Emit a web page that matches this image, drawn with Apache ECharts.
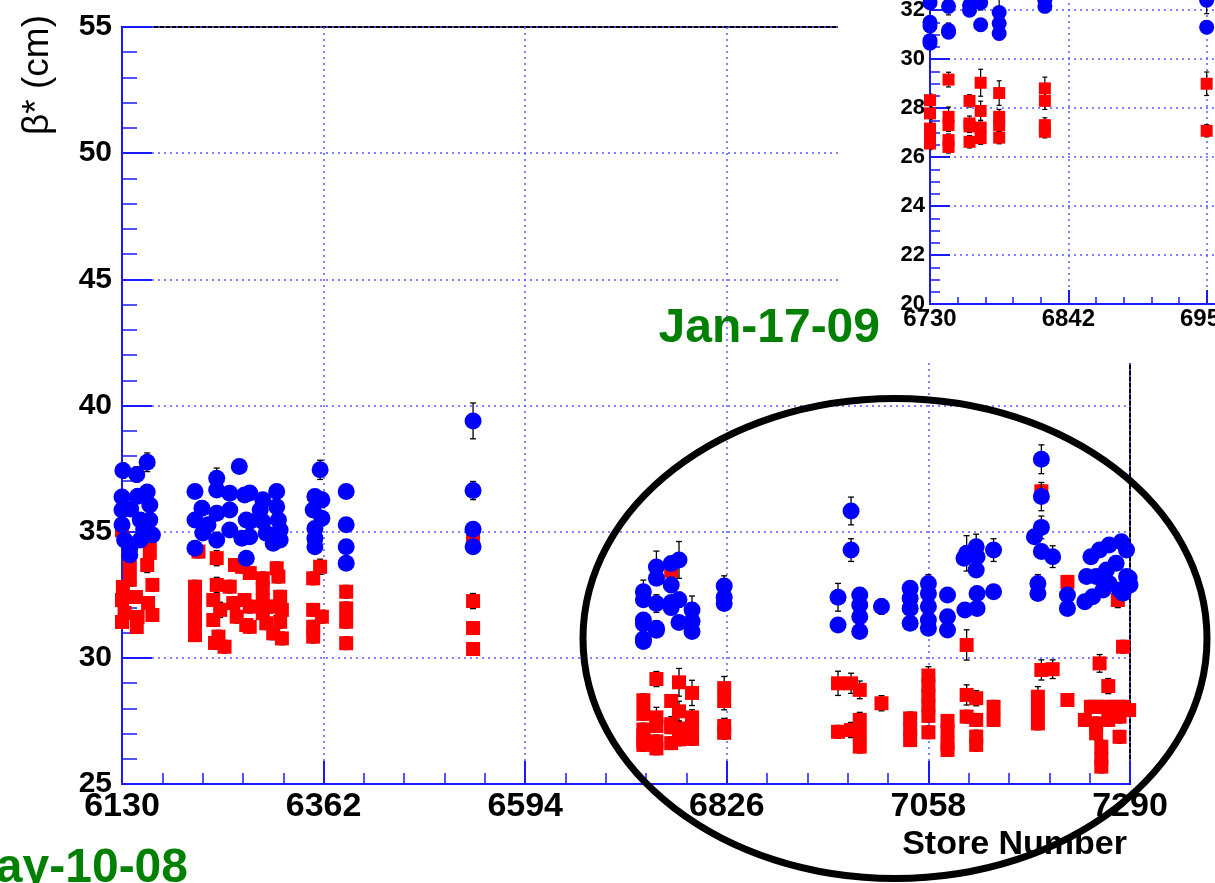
<!DOCTYPE html>
<html>
<head>
<meta charset="utf-8">
<script src="https://cdn.jsdelivr.net/npm/echarts@6/dist/echarts.min.js"></script>
<style>html,body{margin:0;padding:0;background:#fff}#c{width:1215px;height:883px}</style>
</head>
<body>
<div id="c"></div>
<script>
// ---- data: [store number, beta* (cm), error] ----
const redPoints = [
  [6130,35.05],[6162,34.67],[6162,34.16],[6159,33.68,0.3],[6139,33.6],[6139,33.09],[6131,32.81],[6165,32.89],
  [6130,32.29],[6146,32.41],[6160,32.17],[6133,31.78],[6148,31.62],[6165,31.70],[6130,31.42],[6147,31.22],
  [6218,34.21],[6239,33.95,0.3],[6260,33.68],[6268,33.61],[6214,32.82],[6239,32.89,0.3],[6254,32.82],[6271,32.29],
  [6214,32.29],[6235,32.29],[6258,32.17],[6214,31.78],[6243,31.9,0.3],[6262,31.63],[6214,31.43],[6235,31.5],
  [6273,31.3],[6214,30.9],[6241,30.84],[6248,30.44],[6237,30.59],
  [6277,33.36],[6308,33.55],[6292,33.15],[6310,33.22],[6292,32.76],[6312,32.42],[6292,32.29],[6300,32.03],
  [6314,31.9],[6292,31.77],[6312,31.43],[6296,31.37],[6304,30.97],[6314,30.77],[6277,32.03],[6277,31.23],
  [6358,33.61,0.3],[6350,33.15],[6350,31.9],[6360,31.63],[6350,31.23],[6350,30.84],
  [6388,32.62],[6388,31.96],[6388,31.43],[6388,30.58],
  [6534,34.7],[6534,32.25,0.3],[6534,31.18],[6534,30.35],
  [6730,28.32],[6730,27.78],[6730,27.16],[6730,26.95],[6730,26.69],[6730,26.55],
  [6745,29.16,0.3],[6745,27.64,0.4],[6745,27.3],[6745,26.69],[6745,26.41],
  [6762,33.45],[6762,28.29],[6762,27.37,0.3],[6762,27.25],[6762,26.62],
  [6771,29.03,0.55],[6771,27.88,0.4],[6771,27.2,0.3],[6771,26.77],
  [6786,28.61,0.5],[6786,27.64,0.3],[6786,27.3],[6786,26.79],
  [6823,28.8,0.46],[6823,28.29,0.35],[6823,27.3,0.3],[6823,27.03],
  [6954,28.99,0.48],[6954,27.07],
  [6969,28.99,0.4],[6979,28.73,0.35],[6969,27.14,0.3],[6979,27.54,0.3],[6979,27.01],[6979,26.48],[7004,28.2,0.3],
  [7037,27.6],[7037,27.14],[7037,26.74],
  [7058,29.3,0.35],[7058,28.9],[7058,28.5],[7058,28.1],[7058,27.7],[7058,27.05],
  [7080,27.5],[7080,27.1],[7080,26.6],[7080,26.35],
  [7102,30.51,0.6],[7102,28.53,0.4],[7113,28.4,0.3],[7102,27.67],[7113,27.54],[7113,26.88],[7113,26.55],
  [7133,28.06],[7133,27.54],
  [7188,36.6],[7218,33.01],[7276,32.29,0.3],[7282,30.44],[7255,29.78,0.35],[7188,29.52,0.4],[7201,29.55,0.37],
  [7265,28.88,0.3],[7184,28.46,0.4],[7184,27.93],[7184,27.4],[7218,28.33],[7245,28.06],[7257,28.06],[7270,28.06],
  [7282,28.06],[7289,27.93],[7238,27.54],[7251,27.4],[7265,27.54],[7278,27.67],[7251,27.01],[7278,26.87],
  [7257,26.48],[7257,26.02],[7257,25.69]
];
const bluePoints = [
  [6131,37.42,0.3],[6147,37.27,0.3],[6159,37.75,0.37],
  [6130,36.37],[6130,35.86],[6130,35.27],[6133,34.67],[6139,34.35],[6148,36.4],[6151,35.46],[6159,36.57],
  [6162,36.06],[6162,35.46],[6165,34.87],[6151,34.67],[6139,34.08],[6140,35.9],[6155,35.1],
  [6265,37.58],[6239,37.12,0.4],[6214,36.59],[6239,36.65],[6254,36.52],[6271,36.45],[6222,35.93],[6214,35.46],
  [6229,35.27],[6239,35.73],[6254,35.86],[6273,35.46],[6254,35.07],[6239,34.67,0.3],[6268,34.74],[6214,34.34],
  [6273,33.95],[6223,34.95],
  [6277,36.53],[6292,36.26],[6308,36.59],[6289,35.86],[6308,35.99],[6292,35.4],[6310,35.46],[6296,34.94],
  [6312,35.07],[6304,34.54],[6312,34.67],[6277,35.4],[6277,34.8],
  [6358,37.45,0.38],[6352,36.39],[6360,36.26,0.3],[6350,35.86],[6360,35.53],[6352,35.13],[6352,34.74],[6352,34.4],
  [6388,36.59],[6388,35.27],[6388,34.4],[6388,33.75],
  [6534,39.39,0.71],[6534,36.63,0.36],[6534,35.1],[6534,34.4],
  [6730,32.62,0.46],[6730,32.3],[6730,31.5],[6730,31.35],[6730,30.75],[6730,30.65],
  [6745,33.6,0.63],[6745,33.15],[6745,32.15,0.35],[6745,31.17,0.3],[6745,31.09],
  [6762,33.74],[6762,32.89,0.3],[6762,32.19],[6762,31.99],
  [6771,33.88,0.73],[6771,32.3,0.3],[6771,31.4],
  [6786,31.9,0.55],[6786,31.45],[6786,31.04],
  [6823,32.85,0.4],[6823,32.4],[6823,32.15],
  [6954,32.4,0.55],[6954,31.3],
  [6969,35.82,0.55],[6969,34.27,0.45],[6979,32.49],[6979,32.09],[6979,31.63],[6979,31.04],[7004,32.03,0.3],
  [7037,32.76],[7037,32.36],[7037,31.96],[7037,31.37],
  [7058,32.95,0.35],[7058,32.55],[7058,32.03],[7058,31.5],[7058,31.17],
  [7080,32.49],[7080,31.63],[7080,31.1],
  [7102,34.14,0.7],[7113,34.4,0.5],[7114,34.01],[7113,33.48],[7133,34.27,0.45],[7114,32.55],[7133,32.62],
  [7100,31.9],[7114,31.96],[7099,33.95],
  [7188,37.87,0.57],[7188,36.39,0.56],[7188,35.17,0.45],[7180,34.8],[7188,34.21],[7201,34.01,0.43],
  [7184,32.95,0.35],[7184,32.55],[7218,32.49],[7218,31.96],[7238,32.22],[7240,33.22],[7245,34.01],[7255,34.27],
  [7266,34.47],[7280,34.6],[7286,34.27],[7251,33.22],[7263,33.48],[7274,33.75],[7286,33.22],[7290,32.89],
  [7278,32.69],[7259,32.69],[7247,32.42],[7266,32.95],[7289,33.16],[7282,32.56]
];
const DEFAULT_ERR = 0.25;

// ---- axes / tick labels ----
const xTickLabels = ['6130','6362','6594','6826','7058','7290'];
const X_BASE = 6130, X_STEP = 232;
const insetXTickLabels = ['6730','6842','6954','7066'];
const INSET_BASE = 6730, INSET_STEP = 112;
const yRange = [25, 55, 5];
const insetYRange = [20, 34, 2];

const FONT = '"Liberation Sans", Arial, Helvetica, sans-serif';
const AXIS_BLUE = '#1a1aff';
const GRID_BLUE = '#5a5aff';

function prep(points, base, lo, hi) {
  return points.filter(p => p[0] >= lo && p[0] <= hi)
               .map(p => [p[0] - base, p[1], p.length > 2 ? p[2] : DEFAULT_ERR]);
}
const mainRed = prep(redPoints, X_BASE, 6100, 7300);
const mainBlue = prep(bluePoints, X_BASE, 6100, 7300);
const insRed = prep(redPoints, INSET_BASE, 6725, 7066);
const insBlue = prep(bluePoints, INSET_BASE, 6725, 7066);

function errRender(cap, lw) {
  return function (params, api) {
    const x = api.value(0), y = api.value(1), e = api.value(2);
    const t = api.coord([x, y + e]), b = api.coord([x, y - e]);
    const st = { stroke: '#000', lineWidth: lw };
    return { type: 'group', children: [
      { type: 'line', shape: { x1: t[0], y1: t[1], x2: b[0], y2: b[1] }, style: st },
      { type: 'line', shape: { x1: t[0] - cap, y1: t[1], x2: t[0] + cap, y2: t[1] }, style: st },
      { type: 'line', shape: { x1: b[0] - cap, y1: b[1], x2: b[0] + cap, y2: b[1] }, style: st }
    ]};
  };
}

function makeXAxis(gi, max, step, labels, opts) {
  return {
    gridIndex: gi, type: 'value', min: 0, max: max, interval: step, z: opts.z || 0,
    axisLine: { show: true, onZero: false, lineStyle: { color: AXIS_BLUE, width: 2 } },
    axisTick: { show: true, inside: true, length: opts.tick, lineStyle: { color: AXIS_BLUE, width: 2 } },
    minorTick: { show: true, splitNumber: 5, length: opts.minor, lineStyle: { color: AXIS_BLUE, width: 1.5 } },
    splitLine: { show: true, lineStyle: { color: GRID_BLUE, type: [2, 4], width: 1.5 } },
    axisLabel: { show: true, margin: opts.margin, fontSize: opts.font, fontWeight: 'bold', fontFamily: FONT,
      color: '#000', showMinLabel: true, showMaxLabel: true,
      formatter: v => labels[Math.round(v / step)] }
  };
}
function makeYAxis(gi, range, opts) {
  return {
    gridIndex: gi, type: 'value', min: range[0], max: range[1], interval: range[2], z: opts.z || 0,
    axisLine: { show: true, onZero: false, lineStyle: { color: AXIS_BLUE, width: 2 } },
    axisTick: { show: true, inside: true, length: opts.tick, lineStyle: { color: AXIS_BLUE, width: 2 } },
    minorTick: { show: true, splitNumber: opts.split, length: opts.minor, lineStyle: { color: AXIS_BLUE, width: 1.5 } },
    splitLine: { show: true, lineStyle: { color: GRID_BLUE, type: [2, 4], width: 1.5 } },
    axisLabel: { show: true, margin: opts.margin, fontSize: opts.font, fontWeight: 'bold', fontFamily: FONT,
      color: '#000', showMinLabel: true, showMaxLabel: true }
  };
}

const chart = echarts.init(document.getElementById('c'), null, { renderer: 'canvas' });
chart.setOption({
  animation: false,
  backgroundColor: '#fff',
  grid: [
    { left: 122, top: 27, width: 1008, height: 757, show: true, borderColor: '#000', borderWidth: 2,
      backgroundColor: 'transparent', containLabel: false, outerBoundsMode: 'none' },
    { left: 930, top: -39, width: 415, height: 343, show: true, borderColor: '#000', borderWidth: 2,
      backgroundColor: '#fff', containLabel: false, outerBoundsMode: 'none', z: 15 }
  ],
  xAxis: [
    makeXAxis(0, 1160, X_STEP, xTickLabels, { tick: 23, minor: 11, margin: 6, font: 34 }),
    makeXAxis(1, 336, INSET_STEP, insetXTickLabels, { tick: 14, minor: 7, margin: 3, font: 24, z: 20 })
  ],
  yAxis: [
    makeYAxis(0, yRange, { tick: 30, minor: 15, split: 5, margin: 10, font: 30 }),
    makeYAxis(1, insetYRange, { tick: 20, minor: 10, split: 4, margin: 5, font: 22, z: 20 })
  ],
  series: [
    { type: 'custom', xAxisIndex: 0, yAxisIndex: 0, data: mainRed, renderItem: errRender(3, 1.3), z: 2, clip: true, silent: true },
    { type: 'scatter', xAxisIndex: 0, yAxisIndex: 0, data: mainRed, symbol: 'rect', symbolSize: 14,
      itemStyle: { color: '#ff0000', opacity: 1 }, z: 3, silent: true },
    { type: 'custom', xAxisIndex: 0, yAxisIndex: 0, data: mainBlue, renderItem: errRender(3, 1.3), z: 4, clip: true, silent: true },
    { type: 'scatter', xAxisIndex: 0, yAxisIndex: 0, data: mainBlue, symbol: 'circle', symbolSize: 17,
      itemStyle: { color: '#0000ff', opacity: 1 }, z: 5, silent: true },
    { type: 'custom', xAxisIndex: 1, yAxisIndex: 1, data: insRed, renderItem: errRender(2.5, 1.2), z: 22, clip: true, silent: true },
    { type: 'scatter', xAxisIndex: 1, yAxisIndex: 1, data: insRed, symbol: 'rect', symbolSize: 12, clip: true,
      itemStyle: { color: '#ff0000', opacity: 1 }, z: 23, silent: true },
    { type: 'custom', xAxisIndex: 1, yAxisIndex: 1, data: insBlue, renderItem: errRender(2.5, 1.2), z: 24, clip: true, silent: true },
    { type: 'scatter', xAxisIndex: 1, yAxisIndex: 1, data: insBlue, symbol: 'circle', symbolSize: 15, clip: true,
      itemStyle: { color: '#0000ff', opacity: 1 }, z: 25, silent: true }
  ],
  graphic: [
    { type: 'rect', shape: { x: 838, y: 0, width: 377, height: 363 }, style: { fill: '#fff' }, z: 12, silent: true },
    { type: 'ellipse', shape: { cx: 895, cy: 638.5, rx: 312, ry: 240 },
      style: { fill: null, stroke: '#000', lineWidth: 7 }, z: 30, silent: true },
    { type: 'text', x: 38, y: 15, rotation: Math.PI / 2, z: 30, silent: true,
      style: { text: 'β* (cm)', font: '37px ' + FONT, fill: '#000', textAlign: 'right', textVerticalAlign: 'middle' } },
    { type: 'text', x: 1127, y: 845, z: 30, silent: true,
      style: { text: 'Store Number', font: 'bold 34px ' + FONT, fill: '#000', textAlign: 'right', textVerticalAlign: 'middle' } },
    { type: 'text', x: 880, y: 329, z: 30, silent: true,
      style: { text: 'Jan-17-09', font: 'bold 48px ' + FONT, fill: '#008000', textAlign: 'right', textVerticalAlign: 'middle' } },
    { type: 'text', x: 188, y: 869, z: 30, silent: true,
      style: { text: 'May-10-08', font: 'bold 48px ' + FONT, fill: '#008000', textAlign: 'right', textVerticalAlign: 'middle' } }
  ]
});
</script>
</body>
</html>
